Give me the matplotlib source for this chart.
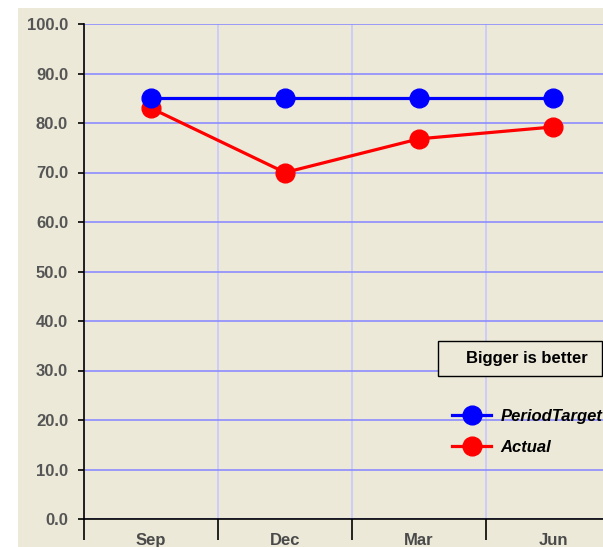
import matplotlib.pyplot as plt
from matplotlib.lines import Line2D
from matplotlib.patches import Rectangle

# quarterly results against the period target
quarters = ['Sep', 'Dec', 'Mar', 'Jun']
periodTarget = [85.0, 85.0, 85.0, 85.0]
actual = [83.0, 70.0, 76.8, 79.2]

bgColor = '#ECE9D8'
labelColor = '#555555'

W, H = 603, 547
fig = plt.figure(figsize=(W / 100, H / 100), dpi=100)
fig.patch.set_facecolor('white')

# beige panel behind the chart
fig.add_artist(Rectangle((18 / W, 0), 1, (H - 8) / H, transform=fig.transFigure,
                         facecolor=bgColor, edgecolor='none', zorder=-10))

# axes run past the right edge, so the last category is clipped
left, right = 84 / W, 620 / W
bottom, top = (H - 519) / H, (H - 24) / H
ax = fig.add_axes([left, bottom, right - left, top - bottom])
ax.set_facecolor(bgColor)

x = [i + 0.5 for i in range(len(quarters))]
ax.plot(x, actual, color='#FF0000', lw=2.3, marker='o', ms=13.5, zorder=3)
ax.plot(x, periodTarget, color='#0000FF', lw=2.3, marker='o', ms=13.5, zorder=4)

ax.set_xlim(0, len(quarters))
ax.set_ylim(0, 100)

# y axis
ax.set_yticks(range(0, 101, 10))
ax.set_yticklabels([f'{v:.1f}' for v in range(0, 101, 10)])
ax.tick_params(axis='y', length=4.5, width=1.2, pad=7, colors='black',
               labelcolor=labelColor, labelsize=12)

# x axis: boundary ticks, labels centred in each category
ax.set_xticks(range(len(quarters) + 1))
ax.set_xticklabels([])
ax.set_xticks(x, minor=True)
ax.set_xticklabels(quarters, minor=True)
ax.tick_params(axis='x', which='major', length=15, width=1.2, colors='black')
ax.tick_params(axis='x', which='minor', length=0, pad=10,
               labelcolor='#4A4A4A', labelsize=12)
for t in ax.get_yticklabels() + ax.get_xticklabels(minor=True):
    t.set_fontfamily('Liberation Sans')
    t.set_fontweight('bold')

for s in ['top', 'right']:
    ax.spines[s].set_visible(False)
for s in ['left', 'bottom']:
    ax.spines[s].set_linewidth(1.2)
    ax.spines[s].set_zorder(5)

ax.grid(axis='y', color='#8C8CFF', lw=1.2, zorder=1)
ax.grid(axis='x', which='major', color='#C8C8FF', lw=1.2, zorder=1)
ax.set_axisbelow(True)

# note box
fig.add_artist(Rectangle((438 / W, 1 - 376 / H), 164 / W, 35 / H, transform=fig.transFigure,
                         facecolor=bgColor, edgecolor='black', lw=1.0, zorder=6))
fig.text(527 / W, 1 - 358 / H, 'Bigger is better', ha='center', va='center',
         fontsize=12, fontweight='bold', fontfamily='Liberation Sans', zorder=7)

handles = [Line2D([], [], color='#0000FF', lw=2.3, marker='o', ms=13.5),
           Line2D([], [], color='#FF0000', lw=2.3, marker='o', ms=13.5)]
ax.legend(handles, ['PeriodTarget', 'Actual'], loc='upper left',
          bbox_to_anchor=(452 / W, 1 - 409 / H), bbox_transform=fig.transFigure,
          frameon=False, borderpad=0, borderaxespad=0, handlelength=2.35,
          handletextpad=0.55, labelspacing=0.95,
          prop=dict(family='Liberation Sans', weight='bold', style='italic', size=12))

fig.savefig('out.png', dpi=100)
